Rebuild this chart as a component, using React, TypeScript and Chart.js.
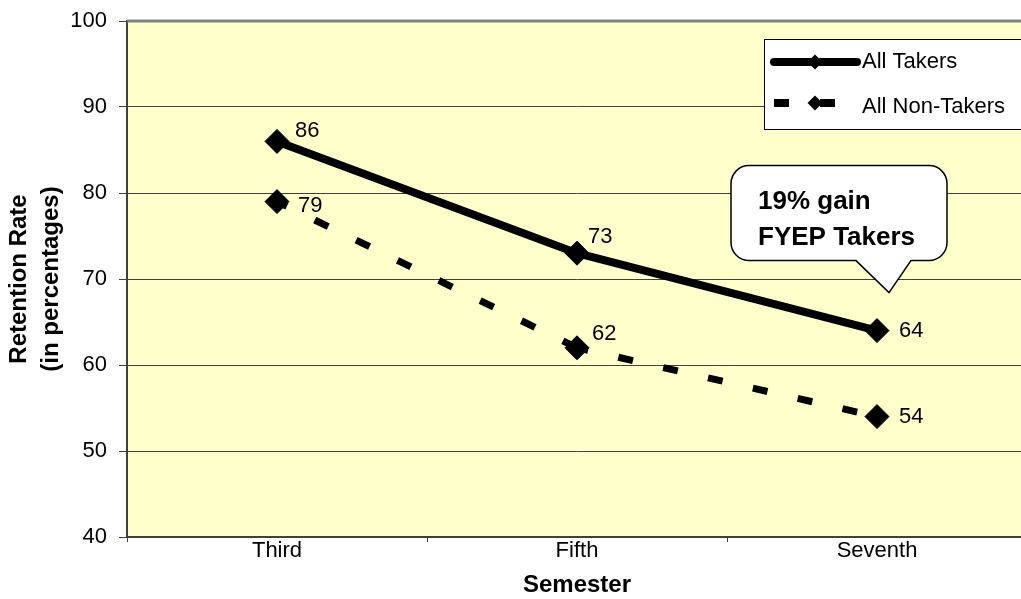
import React, { useEffect, useRef } from "react";
import { Chart, registerables } from "chart.js";

Chart.register(...registerables);

const semesters = ["Third", "Fifth", "Seventh"];
const allTakers = [86, 73, 64];
const allNonTakers = [79, 62, 54];
const seriesNames = ["All Takers", "All Non-Takers"];
const yMin = 40;
const yMax = 100;
const yStep = 10;
const xTitle = "Semester";
const yTitle = ["Retention Rate", "(in percentages)"];
const calloutLines = ["19% gain", "FYEP Takers"];

const FONT = '"Liberation Sans", Arial, Helvetica, sans-serif';

// label offsets (dx, dy) relative to each point, per dataset
const labelOffsets = [
  [[18, -10], [11, -16], [22, 0]],
  [[21, 4], [15, -14], [22, 0]],
];

const decorPlugin = {
  id: "decor",
  beforeDraw(chart: any) {
    const { ctx, chartArea: a } = chart;
    ctx.save();
    ctx.fillStyle = "#FFFFCC";
    ctx.fillRect(a.left, a.top, a.right - a.left + 10, a.bottom - a.top);
    ctx.restore();
  },
  beforeDatasetsDraw(chart: any) {
    const { ctx, chartArea: a } = chart;
    ctx.save();
    ctx.strokeStyle = "#808080";
    ctx.lineWidth = 3;
    ctx.beginPath();
    ctx.moveTo(a.left, a.top);
    ctx.lineTo(a.right + 5, a.top);
    ctx.stroke();
    ctx.restore();
  },
  afterDatasetsDraw(chart: any) {
    const { ctx, chartArea: a } = chart;
    ctx.save();
    // data labels
    ctx.fillStyle = "#000";
    ctx.font = `22px ${FONT}`;
    ctx.textAlign = "left";
    ctx.textBaseline = "middle";
    chart.data.datasets.forEach((ds: any, di: number) => {
      const meta = chart.getDatasetMeta(di);
      meta.data.forEach((pt: any, i: number) => {
        const [dx, dy] = labelOffsets[di][i];
        ctx.fillText(String(ds.data[i]), pt.x + dx, pt.y + dy);
      });
    });

    // legend box
    const lx = a.left + 637;
    const ly = a.top + 18;
    ctx.fillStyle = "#fff";
    ctx.fillRect(lx, ly, 300, 90);
    ctx.strokeStyle = "#000";
    ctx.lineWidth = 1;
    ctx.strokeRect(lx + 0.5, ly + 0.5, 300, 90);
    const rows = [
      { y: ly + 23, ty: ly + 23, dash: [] as number[] },
      { y: ly + 64, ty: ly + 68, dash: [15, 31] },
    ];
    rows.forEach((r, i) => {
      const ds = chart.data.datasets[i];
      ctx.save();
      ctx.strokeStyle = ds.borderColor;
      ctx.lineWidth = 8;
      ctx.lineCap = i === 0 ? "round" : "butt";
      ctx.setLineDash(r.dash);
      ctx.beginPath();
      ctx.moveTo(lx + 10, r.y);
      ctx.lineTo(lx + 93, r.y);
      ctx.stroke();
      ctx.restore();
      const cx = lx + 51;
      const rr = 7.5;
      ctx.fillStyle = ds.pointBackgroundColor;
      ctx.beginPath();
      ctx.moveTo(cx - rr, r.y);
      ctx.lineTo(cx, r.y - rr);
      ctx.lineTo(cx + rr, r.y);
      ctx.lineTo(cx, r.y + rr);
      ctx.closePath();
      ctx.fill();
      ctx.fillStyle = "#000";
      ctx.font = `22px ${FONT}`;
      ctx.textAlign = "left";
      ctx.textBaseline = "middle";
      ctx.fillText(ds.label, lx + 98, r.ty);
    });

    // callout anchored near last takers point
    const meta0 = chart.getDatasetMeta(0);
    const last = meta0.data[meta0.data.length - 1];
    const px = last.x;
    const py = last.y;
    const L = px - 146, R = px + 70, T = py - 165, B = py - 70, rad = 18;
    ctx.beginPath();
    ctx.moveTo(L + rad, T);
    ctx.lineTo(R - rad, T);
    ctx.arcTo(R, T, R, T + rad, rad);
    ctx.lineTo(R, B - rad);
    ctx.arcTo(R, B, R - rad, B, rad);
    ctx.lineTo(px + 34, B);
    ctx.lineTo(px + 12, py - 38);
    ctx.lineTo(px - 21, B);
    ctx.lineTo(L + rad, B);
    ctx.arcTo(L, B, L, B - rad, rad);
    ctx.lineTo(L, T + rad);
    ctx.arcTo(L, T, L + rad, T, rad);
    ctx.closePath();
    ctx.fillStyle = "#fff";
    ctx.fill();
    ctx.strokeStyle = "#000";
    ctx.lineWidth = 1.5;
    ctx.stroke();
    ctx.fillStyle = "#000";
    ctx.font = `bold 26px ${FONT}`;
    ctx.textAlign = "left";
    ctx.textBaseline = "alphabetic";
    ctx.fillText(calloutLines[0], L + 27, T + 43);
    ctx.fillText(calloutLines[1], L + 27, T + 79);
    ctx.restore();
  },
};

export default function App() {
  const ref = useRef<HTMLCanvasElement | null>(null);

  useEffect(() => {
    if (!ref.current) return;
    const chart = new Chart(ref.current, {
      type: "line",
      data: {
        labels: semesters,
        datasets: [
          {
            label: seriesNames[0],
            data: allTakers,
            borderColor: "#000",
            borderWidth: 8,
            pointStyle: "rectRot",
            pointRadius: 12,
            pointBorderWidth: 1,
            pointBackgroundColor: "#000",
            pointBorderColor: "#000",
            tension: 0,
            fill: false,
          },
          {
            label: seriesNames[1],
            data: allNonTakers,
            borderColor: "#000",
            borderWidth: 7,
            borderDash: [15, 31],
            borderCapStyle: "butt",
            segment: {
              borderDashOffset: (c: any) => (c.p0DataIndex === 0 ? 4 : 3.6),
            },
            pointStyle: "rectRot",
            pointRadius: 12,
            pointBorderWidth: 1,
            pointBackgroundColor: "#000",
            pointBorderColor: "#000",
            tension: 0,
            fill: false,
          },
        ],
      },
      options: {
        responsive: false,
        animation: false,
        layout: { padding: { top: 21, left: 0, right: 0, bottom: 0 } },
        plugins: {
          legend: { display: false },
          tooltip: { enabled: false },
        },
        scales: {
          x: {
            type: "category",
            offset: true,
            grid: {
              display: true,
              drawOnChartArea: false,
              offset: true,
              tickLength: 5,
              color: "#404040",
              lineWidth: 1,
            },
            border: { display: true, color: "#404040", width: 2 },
            ticks: {
              color: "#000",
              font: { family: FONT, size: 22 },
              padding: -4,
              maxRotation: 0,
            },
            title: {
              display: true,
              text: xTitle,
              color: "#000",
              font: { family: FONT, size: 24, weight: "bold", lineHeight: 1.1 },
              padding: { top: 0, bottom: 0 },
            },
            afterFit(s: any) {
              s.height = 62;
              s.paddingLeft = 0;
              s.paddingRight = 0;
            },
          },
          y: {
            min: yMin,
            max: yMax,
            ticks: {
              stepSize: yStep,
              color: "#000",
              font: { family: FONT, size: 22 },
              padding: 12,
            },
            grid: { color: "#404040", lineWidth: 1, tickLength: 8 },
            border: { display: true, color: "#404040", width: 2 },
            title: {
              display: true,
              text: yTitle,
              color: "#000",
              font: { family: FONT, size: 24, weight: "bold", lineHeight: 1.35 },
              padding: { top: 3, bottom: 0 },
            },
            afterFit(s: any) {
              s.width = 127;
              s.paddingTop = 0;
              s.paddingBottom = 0;
            },
          },
        },
      },
      plugins: [decorPlugin],
    });
    return () => chart.destroy();
  }, []);

  return (
    <div
      style={{
        position: "absolute",
        left: 0,
        top: 0,
        width: 1021,
        height: 599,
        overflow: "hidden",
        background: "#fff",
      }}
    >
      <canvas ref={ref} width={1040} height={599} style={{ display: "block" }} />
    </div>
  );
}
